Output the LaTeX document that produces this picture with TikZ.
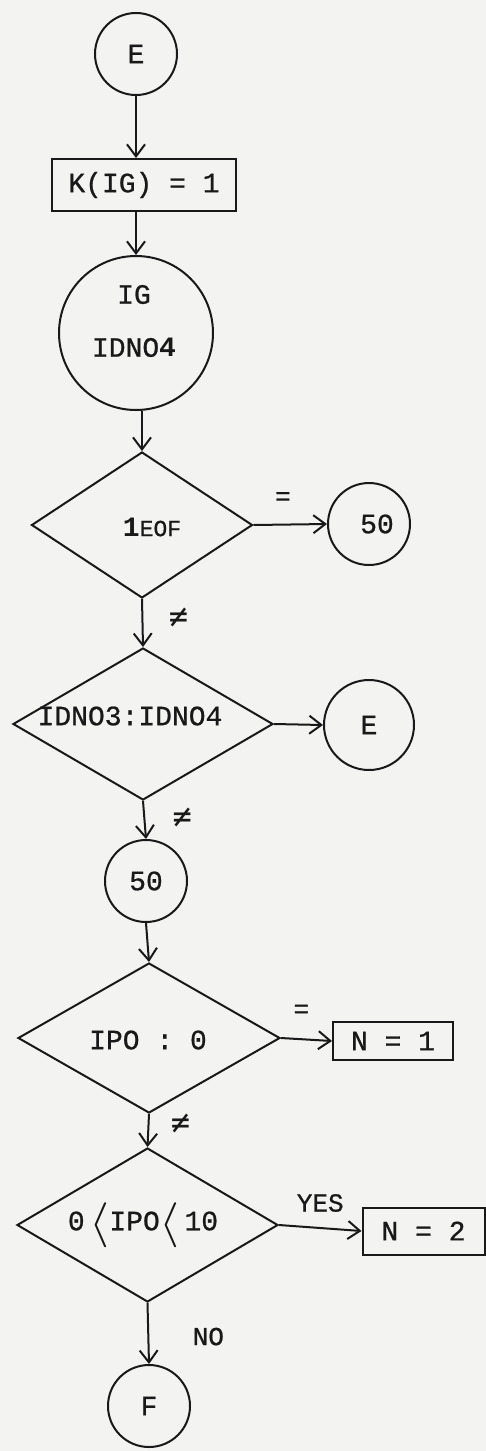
\documentclass[tikz,border=0pt]{standalone}
\usepackage{fontspec}
\usepackage{graphicx}
\setmainfont{Liberation Mono}[UprightFeatures={FakeBold=0.8}]
\newfontfamily\symf{DejaVu Sans Mono}
\usetikzlibrary{shapes.geometric,arrows.meta}
\definecolor{paper}{RGB}{243,243,241}
\definecolor{ink}{RGB}{25,25,25}
\newcommand{\ang}{\raisebox{-6pt}{\resizebox*{20pt}{45pt}{$\langle$}}}
\newcommand{\nq}{{\symf\fontsize{32}{34}\selectfont ≠}}
\begin{document}
\begin{tikzpicture}[x=1pt,y=-1pt,
  every node/.style={font=\fontsize{28}{31}\selectfont, text=ink},
  line/.style={draw=ink, line width=2pt},
  circ/.style={circle, line, inner sep=0pt},
  box/.style={rectangle, line, inner sep=0pt},
  dia/.style={diamond, line, inner sep=0pt},
  arr/.style={line, -{Straight Barb[length=12pt,width=18pt]}},
  lab/.style={inner sep=0pt, font=\fontsize{26}{29}\selectfont}]
\fill[paper] (0,0) rectangle (486,1451);
\useasboundingbox (0,0) rectangle (486,1451);
% nodes
\node[circ, minimum size=82pt] (E1) at (136,54) {E};
\node[box, minimum width=184pt, minimum height=52pt] (K) at (144,185) {K(IG) = 1};
\node[circ, minimum size=154pt] (IG) at (136,333) {};
\node[align=center, inner sep=0pt] (IGt) at (134,321) {IG\\[22pt]IDNO\textbf{4}};
\node[dia, minimum width=221pt, minimum height=146pt] (D1) at (142,525) {};
\node (D1t) at (152,527) {\textbf{1}{\fontsize{23}{26}\selectfont EOF}};
\node[circ, minimum size=82pt] (C50a) at (369,524) {\hspace{16pt}50};
\node[dia, minimum width=260pt, minimum height=152pt] (D2) at (143,724) {};
\node (D2t) at (130,716) {IDNO3:IDNO4};
\node[circ, minimum size=90pt] (E2) at (369,725) {E};
\node[circ, minimum size=82pt] (C50b) at (146,881) {50\hspace{16pt}};
\node[dia, minimum width=262pt, minimum height=150pt] (D3) at (149,1038) {};
\node (D3t) at (148,1040) {IPO : 0};
\node[box, minimum width=120pt, minimum height=38pt] (N1) at (393,1041) {N = 1};
\node[dia, minimum width=261pt, minimum height=154pt] (D4) at (147.5,1225) {};
\node (D4t) at (143,1225) {0\,\ang IPO\ang\,10};
\node[box, minimum width=122pt, minimum height=47pt] (N2) at (423.5,1231) {N = 2};
\node[circ, minimum size=82pt] (F) at (149,1406) {F};
% connectors
\draw[arr] (E1.south) -- (E1.south |- K.north);
\draw[arr] (IG.north |- K.south) -- (IG.north);
\draw[arr] (D1.north |- IG.south) -- (D1.north);
\draw[arr] (D1.east) -- node[lab, pos=0.4, yshift=26pt]{=} (C50a.west);
\draw[arr] (D1.south) -- node[lab, pos=0.4, xshift=36pt]{\nq} (D2.north);
\draw[arr] (D2.east) -- (E2.west);
\draw[arr] (D2.south) -- node[lab, pos=0.45, xshift=38pt]{\nq} (C50b.north);
\draw[arr] (C50b.south) -- (D3.north);
\draw[arr] (D3.east) -- node[lab, pos=0.4, yshift=28pt]{=} (N1.west);
\draw[arr] (D3.south) -- node[lab, pos=0.3, xshift=32pt]{\nq} (D4.north);
\draw[arr] (D4.east) -- node[lab, pos=0.5, yshift=25pt]{YES} (N2.west);
\draw[arr] (D4.south) -- node[lab, pos=0.55, xshift=60pt]{NO} (F.north);
\end{tikzpicture}
\end{document}
